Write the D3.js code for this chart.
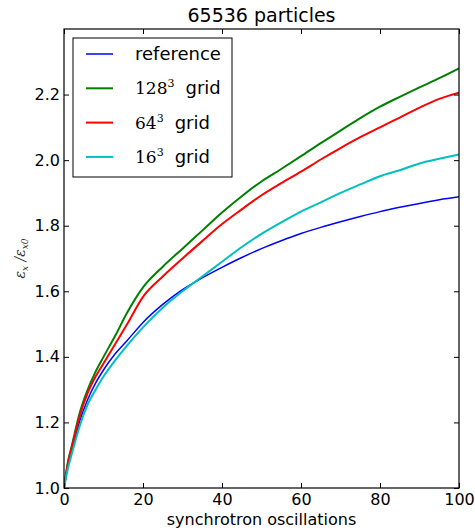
<!DOCTYPE html>
<html>
<head>
<meta charset="utf-8">
<script src="https://cdn.jsdelivr.net/npm/d3@7"></script>
<style>
  body { margin: 0; background: #fff; }
  text { font-family: "DejaVu Sans", sans-serif; }
</style>
</head>
<body>
<svg id="chart"></svg>
<script>
// x positions (synchrotron oscillations)
const oscillations = [0, 1, 2, 4, 6, 8, 10, 13, 16, 20, 25, 30, 35, 40, 45, 50, 55, 60, 65, 70, 75, 80, 85, 90, 95, 100];

const reference = [1.0, 1.07, 1.115, 1.205, 1.27, 1.32, 1.36, 1.41, 1.45, 1.505, 1.56, 1.605, 1.641, 1.673, 1.703, 1.73, 1.754, 1.776, 1.795, 1.812, 1.828, 1.843, 1.856, 1.868, 1.879, 1.888];
const grid128 = [1.0, 1.08, 1.13, 1.23, 1.30, 1.355, 1.40, 1.465, 1.535, 1.612, 1.675, 1.73, 1.785, 1.84, 1.89, 1.935, 1.973, 2.012, 2.052, 2.09, 2.128, 2.163, 2.193, 2.222, 2.25, 2.28];
const grid64 = [1.0, 1.075, 1.125, 1.22, 1.29, 1.34, 1.38, 1.44, 1.50, 1.583, 1.645, 1.70, 1.753, 1.805, 1.85, 1.893, 1.93, 1.965, 2.002, 2.037, 2.07, 2.10, 2.13, 2.16, 2.187, 2.206];
const grid16 = [1.0, 1.06, 1.105, 1.19, 1.255, 1.30, 1.34, 1.39, 1.435, 1.49, 1.55, 1.60, 1.645, 1.69, 1.735, 1.775, 1.81, 1.843, 1.871, 1.90, 1.926, 1.951, 1.969, 1.99, 2.004, 2.017];

const xTicks = [0, 20, 40, 60, 80, 100];
const yTicks = [1.0, 1.2, 1.4, 1.6, 1.8, 2.0, 2.2];

const series = [
  { name: 'reference', values: reference, color: '#0000ff', width: 1.5 },
  { name: '128', values: grid128, color: '#008000', width: 2 },
  { name: '64', values: grid64, color: '#ff0000', width: 2 },
  { name: '16', values: grid16, color: '#00bfbf', width: 2 }
];

const width = 475, height = 531;
const margin = { top: 29, right: 16, bottom: 43, left: 64 };
const innerWidth = width - margin.left - margin.right;
const innerHeight = height - margin.top - margin.bottom;

const svg = d3.select('#chart').attr('width', width).attr('height', height);
const g = svg.append('g').attr('transform', `translate(${margin.left},${margin.top})`);

const xScale = d3.scaleLinear().domain([0, 100]).range([0, innerWidth]);
const yScale = d3.scaleLinear().domain([1.0, 2.4]).range([innerHeight, 0]);

// lines
const line = d3.line()
  .x((d, i) => xScale(oscillations[i]))
  .y(d => yScale(d))
  .curve(d3.curveMonotoneX);

g.append('defs').append('clipPath').attr('id', 'clip')
  .append('rect').attr('width', innerWidth).attr('height', innerHeight);

g.append('g').attr('clip-path', 'url(#clip)')
  .selectAll('path')
  .data(series)
  .enter()
  .append('path')
  .attr('d', d => line(d.values))
  .attr('fill', 'none')
  .attr('stroke', d => d.color)
  .attr('stroke-width', d => d.width)
  .attr('stroke-linejoin', 'round');

// axes, matplotlib-style inward ticks on all four sides
const xAxis = d3.axisBottom(xScale).tickValues(xTicks).tickFormat(d3.format('d')).tickSize(-5).tickPadding(6);
const xAxisTop = d3.axisTop(xScale).tickValues(xTicks).tickSize(-5);
const yAxis = d3.axisLeft(yScale).tickValues(yTicks).tickFormat(d3.format('.1f')).tickSize(-5).tickPadding(4);
const yAxisRight = d3.axisRight(yScale).tickValues(yTicks).tickSize(-5);

const styleAxis = sel => {
  sel.select('.domain').remove();
  sel.selectAll('line').attr('stroke', '#000');
  sel.selectAll('text').attr('font-size', 16).attr('fill', '#000')
    .style('font-family', '"DejaVu Sans", sans-serif');
};
const noLabels = sel => sel.selectAll('text').remove();

g.append('g').attr('transform', `translate(0,${innerHeight})`).call(xAxis).call(styleAxis);
g.append('g').call(xAxisTop).call(styleAxis).call(noLabels);
g.append('g').call(yAxis).call(styleAxis);
g.append('g').attr('transform', `translate(${innerWidth},0)`).call(yAxisRight).call(styleAxis).call(noLabels);

g.append('rect')
  .attr('width', innerWidth).attr('height', innerHeight)
  .attr('fill', 'none').attr('stroke', '#000').attr('stroke-width', 1.2);

// title and labels
svg.append('text')
  .attr('x', margin.left + innerWidth / 2).attr('y', 22)
  .attr('text-anchor', 'middle').attr('font-size', 19)
  .text('65536 particles');

svg.append('text')
  .attr('x', margin.left + innerWidth / 2).attr('y', 525)
  .attr('text-anchor', 'middle').attr('font-size', 16)
  .text('synchrotron oscillations');

const yLab = svg.append('text')
  .attr('transform', `translate(25,${margin.top + innerHeight / 2}) rotate(-90)`)
  .attr('text-anchor', 'middle').attr('font-size', 14).attr('fill', '#333')
  .style('font-family', '"DejaVu Serif", serif').style('font-style', 'italic');
yLab.append('tspan').text('ε');
yLab.append('tspan').attr('font-size', 9).attr('dy', 3).text('x');
yLab.append('tspan').attr('dy', -3).text(' /');
yLab.append('tspan').text('ε');
yLab.append('tspan').attr('font-size', 9).attr('dy', 3).text('x0');

// legend
const legend = svg.append('g').attr('transform', 'translate(73,38)');
legend.append('rect')
  .attr('width', 159).attr('height', 139)
  .attr('fill', '#fff').attr('stroke', '#000').attr('stroke-width', 1);

const rows = legend.selectAll('g.row')
  .data(series)
  .enter()
  .append('g')
  .attr('class', 'row')
  .attr('transform', (d, i) => `translate(0,${16 + i * 34.3})`);

rows.append('line')
  .attr('x1', 13).attr('x2', 40)
  .attr('stroke', d => d.color).attr('stroke-width', d => d.width);

rows.each(function (d) {
  const t = d3.select(this).append('text')
    .attr('x', 62).attr('y', 6).attr('font-size', 18);
  if (d.name === 'reference') {
    t.text('reference');
  } else {
    t.append('tspan').style('font-family', '"DejaVu Serif", serif').attr('font-size', 17).text(d.name);
    t.append('tspan').style('font-family', '"DejaVu Serif", serif').attr('font-size', 11).attr('dy', -7).text('3');
    t.append('tspan').attr('dy', 7).attr('dx', 11).text('grid');
  }
});
</script>
</body>
</html>
